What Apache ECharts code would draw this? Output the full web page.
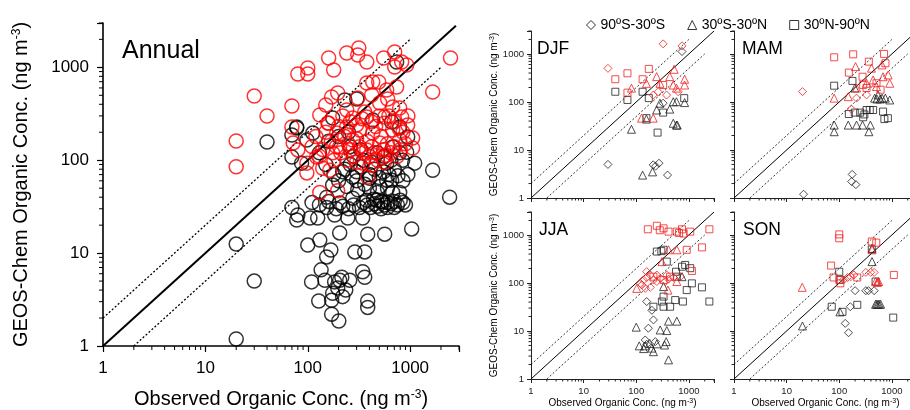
<!DOCTYPE html>
<html><head><meta charset="utf-8">
<script src="https://cdn.jsdelivr.net/npm/echarts@6/dist/echarts.min.js"></script>
<style>html,body{margin:0;padding:0;background:#fff}#c{width:910px;height:410px}</style>
</head><body><div id="c"></div>
<script>
// ---------- data ----------
const tickLabels = ['1', '10', '100', '1000'];
const minorTickValues = [2,3,4,5,6,7,8,9,20,30,40,50,60,70,80,90,200,300,400,500,600,700,800,900,2000,3000];
const regions = ['90ºS-30ºS', '30ºS-30ºN', '30ºN-90ºN'];
const panelNames = ['Annual', 'DJF', 'MAM', 'JJA', 'SON'];
const mainLine11 = [[1,1],[2800,2800]];
const subLine11 = [[1,1],[3000,3000]];
const line21 = [[1,2],[1000,2000]];
const line12 = [[2,1],[2000,1000]];

const annualBlack = [
[78,228],[175,285],[230,445],[301,456],[431,271],[660,258],[738,1140],[40,157],[70,187],[78,222],[70,108],[87,93],[98,165],[112,196],
[219,75],[175,54],[240,52],[275,66],[308,48],[403,64],[504,52],[590,61],[660,61],[675,45],[790,45],[845,100],[925,122],[1107,93],
[1660,78],[2430,40],[275,39],[377,37],[471,37],[540,35.5],[675,139],[590,93],[790,120],[205,34.6],[153,40],[20,12.5],[30,5.0],[20,1.19],
[70,31],[80,25.7],[78,22.7],[105,23.9],[125,23.9],[153,31],[183,25.7],[246,23.9],[344,23.9],[205,16.5],[385,16],[564,16],[1035,18.2],
[100,12.2],[131,13.8],[168,10.8],[153,9.1],[288,10.3],[360,10.3],[135,6.6],[109,4.9],[147,5.1],[183,4.9],[215,5.5],[257,5.1],[344,6.3],
[360,5.5],[196,4.2],[219,3.4],[175,3.7],[128,3.05],[171,3.1],[385,3.05],[385,2.6],[171,2.2],[201,1.86],[205,5.1],[235,4.0],
[110,35],[130,33],[160,36],[190,30],[220,32],[250,30],[280,33],[320,31],[350,35],[380,33],[410,31],[450,34],[480,32],[520,36],[560,33],
[600,35],[650,34],[700,36],[750,33],[800,37],[850,35],[900,33],[440,38],[520,30],[600,31],[700,31],
[180,70],[200,60],[230,80],[260,90],[300,75],[330,85],[360,55],[400,70],[450,80],[500,65],[550,75],[620,70],[700,80],[760,68],[850,60],
[950,70],[280,110],[350,100],[420,95],[480,120],[560,110],[650,100],[160,160],[200,180],[260,140],[130,120],[150,90],[330,130],[250,200],
[300,60],[400,50],[480,45],[600,50],[790,228],[946,178]
];
const annualRed = [
[30,490],[40,299],[70,383],[80,847],[100,983],[100,847],[160,1259],[179,935],[240,1425],[315,1614],[308,1356],[377,1140],[551,1259],
[706,1462],[706,1007],[826,1140],[925,1059],[2480,1259],[1660,542],[377,678],[431,695],[493,695],[738,614],[590,570],[421,503],[308,467],
[196,529],[171,479],[150,393],[131,307],[157,251],[240,347],[275,285],[377,292],[504,413],[603,456],[675,374],[790,365],[826,292],[564,292],
[70,228],[20,161],[20,85],[72,153],[80,129],[98,93],[98,73],[131,45],[196,47],[140,82],[175,120],[205,139],[240,100],[275,165],[321,211],
[377,129],[385,66],[431,196],[504,153],[540,106],[580,113],[675,211],[790,165],[946,239],[1058,173],[1058,135],[344,93],[164,78],[122,108],
[240,228],[192,196],
[150,200],[170,160],[190,140],[210,120],[230,180],[250,150],[260,130],[280,110],[300,170],[320,140],[350,120],[380,160],[400,110],[420,140],
[450,120],[480,100],[520,180],[550,130],[600,150],[650,120],[700,140],[750,110],[800,130],[850,200],[900,150],[120,180],[140,130],[160,250],
[200,230],[220,300],[260,260],[300,240],[340,280],[360,330],[420,260],[460,230],[500,300],[560,250],[620,300],[700,260],[780,220],[950,300],
[110,140],[130,110],[180,100],[300,95],[420,88],[560,95]
];

const djfRedDiamond = [[29,500],[324,1620],[740,1470],[210,139],[377,139],[260,163],[625,163]];
const djfRedTriangle = [[81,194],[156,244],[244,337],[282,244],[433,337],[525,478],[505,225],[580,194],[830,297],[830,225],[126,46],[210,46]];
const djfRedSquare = [[40,297],[68,395],[173,488],[132,297],[68,156],[324,225]];
const djfBlackDiamond = [[29,5],[210,4.9],[233,4.6],[270,5.3],[393,3.0],[740,1120],[324,94]];
const djfBlackTriangle = [[81,27],[132,3.0],[204,3.5],[244,68],[282,94],[433,71],[505,101],[580,101],[830,97],[505,36],[580,33],[600,33],[156,44]];
const djfBlackSquare = [[40,163],[68,110],[132,163],[173,120],[156,46],[324,60],[254,23],[815,120]];

const mamRedDiamond = [[20,164],[170,71],[213,120],[330,140]];
const mamRedTriangle = [[204,545],[410,505],[650,590],[850,365],[910,245],[80,120],[148,129],[213,195],[330,245],[440,287],[510,209],[680,335]];
const mamRedSquare = [[80,850],[184,980],[152,408],[365,690],[710,1000],[755,640],[277,335],[285,226],[330,195],[510,245],[610,180]];
const mamBlackDiamond = [[21,1.2],[176,3.1],[172,2.2],[207,1.9]];
const mamBlackTriangle = [[80,33],[80,24],[148,33],[213,33],[277,33],[365,24],[390,33],[198,195],[470,120],[650,120],[910,110],[545,140],[520,115],[600,115],[750,120]];
const mamBlackSquare = [[80,218],[178,274],[152,56],[285,48],[330,68],[440,68],[680,63],[720,44],[840,46],[197,60],[380,68],[250,60],[300,55]];

const jjaRedDiamond = [[120,98],[137,115],[158,130],[185,146],[212,115],[246,107],[285,125],[355,107],[410,120],[510,130],[185,81],[148,77],[128,91],[158,172],[246,146],[380,146],[690,135]];
const jjaRedTriangle = [[307,278],[410,490],[590,490],[102,77],[400,71],[590,107]];
const jjaRedSquare = [[166,1310],[246,1550],[330,1370],[410,1170],[590,1170],[790,1070],[1060,1170],[740,1310],[2450,1310],[910,490],[1770,550],[1140,178],[212,135],[330,115],[440,135],[280,1250],[650,1100]];
const jjaBlackDiamond = [[158,41],[198,27],[212,17],[170,11.4],[148,6.5],[158,5.3],[230,6.0]];
const jjaBlackTriangle = [[330,84],[740,135],[100,12],[114,4.9],[148,4.9],[180,5.5],[198,4.4],[212,3.7],[246,5.4],[345,5.1],[285,10.5],[380,10.2],[410,16],[590,16],[370,6],[410,2.5],[138,4.3]];
const jjaBlackSquare = [[246,450],[330,490],[380,278],[570,171],[740,218],[850,237],[1060,203],[1140,98],[910,71],[1770,81],[2450,41],[770,41],[550,44],[307,41],[212,32],[330,32],[440,32],[330,52],[590,135],[300,460]];

const sonRedDiamond = [[144,130],[190,147],[166,135],[320,166],[395,166],[460,166],[120,116]];
const sonRedTriangle = [[19.8,81],[420,490],[560,107],[490,107],[525,103],[540,105]];
const sonRedSquare = [[100,1025],[100,850],[70,230],[78,130],[100,116],[105,98],[220,130],[415,730],[505,690],[1090,147]];
const sonBlackDiamond = [[200,69],[320,69],[360,69],[460,69],[162,32],[130,14.4],[150,9.2]];
const sonBlackTriangle = [[420,278],[420,525],[103,25],[20,12.7],[490,36],[545,36],[610,36],[515,36],[575,36]];
const sonBlackSquare = [[415,500],[100,171],[105,116],[72,32],[115,25],[220,35],[1060,19],[490,107]];

// ---------- chart ----------
const FONT = 'Liberation Sans, Arial, sans-serif';
const RED = '#ff0000';
const BLK = '#000000';
const grids = [
  {left:103, top:23, width:356, height:323, outerBoundsMode:'none'},
  {left:531, top:31, width:183, height:167, outerBoundsMode:'none'},
  {left:734, top:31, width:183, height:167, outerBoundsMode:'none'},
  {left:531, top:212, width:183, height:167, outerBoundsMode:'none'},
  {left:734, top:212, width:183, height:167, outerBoundsMode:'none'}
];
function fmt(v){ const r = Math.round(v); const s = String(r); return tickLabels.indexOf(s) >= 0 && Math.abs(v - r) < 1e-6 * Math.max(1, r) ? s : ''; }
const xAxes = [], yAxes = [];
grids.forEach((g, i) => {
  const main = i === 0;
  const showX = main || i === 3 || i === 4;
  const showY = main || i === 1 || i === 3;
  const col = main ? '#000' : '#222';
  const axisCommon = {
    type:'log', logBase:10, min:1, max:3000, gridIndex:i,
    splitLine:{show:false},
    axisLine:{show:true, lineStyle:{color:col, width: main ? 1.6 : 1}},
    axisTick:{show:true, inside:false, length: main ? 6 : 4, lineStyle:{color:col, width: main ? 1.2 : 1}},
    minorTick:{show:false}
  };
  const supRich = {sup:{fontSize: main ? 12 : 7, verticalAlign:'top', fontFamily:FONT, color:'#000'}};
  xAxes.push(Object.assign({}, axisCommon, {
    axisLabel:{show:showX, formatter:fmt, fontSize: main ? 17 : 9.5, fontFamily:FONT, color:col, margin: main ? 14 : 7},
    name: showX ? 'Observed Organic Conc. (ng m{sup|-3})' : '',
    nameLocation:'middle', nameGap: main ? 43 : 19,
    nameTextStyle:{fontSize: main ? 20 : 10, fontFamily:FONT, color:'#000', rich:supRich}
  }));
  yAxes.push(Object.assign({}, axisCommon, {
    axisLabel:{show:showY, formatter:fmt, fontSize: main ? 17 : 9.5, fontFamily:FONT, color:col, margin: main ? 14 : 7},
    name: showY ? 'GEOS-Chem Organic Conc. (ng m{sup|-3})' : '',
    nameLocation:'middle', nameRotate:90, nameGap: main ? 72 : 32,
    nameTextStyle:{fontSize: main ? 20 : 10, fontFamily:FONT, color:'#000', rich:supRich}
  }));
});

const series = [];
function lineS(i, data, width, dashed){
  series.push({type:'line', xAxisIndex:i, yAxisIndex:i, data:data, showSymbol:false, silent:true, z:1,
    lineStyle:{color:'#000', width:width, type: dashed ? [2,2] : 'solid'}, animation:false});
}
function scat(i, name, data, symbol, color, size, bw){
  series.push({type:'scatter', name:name, xAxisIndex:i, yAxisIndex:i, data:data, symbol:symbol, symbolSize:size,
    itemStyle:{color:'rgba(0,0,0,0)', borderColor:color, borderWidth:bw}, silent:true, z:3,
    emphasis:{disabled:true}, animation:false});
}
function ticks(i, len, col){
  series.push({type:'scatter', xAxisIndex:i, yAxisIndex:i, data:minorTickValues.map(v => [v, 1]), symbol:'rect',
    symbolSize:[1, len], symbolOffset:[0, len/2], clip:false, silent:true, itemStyle:{color:col, opacity:1}, z:10, animation:false});
  series.push({type:'scatter', xAxisIndex:i, yAxisIndex:i, data:minorTickValues.map(v => [1, v]), symbol:'rect',
    symbolSize:[len, 1], symbolOffset:[-len/2, 0], clip:false, silent:true, itemStyle:{color:col, opacity:1}, z:10, animation:false});
}
// main panel
lineS(0, mainLine11, 2, false);
lineS(0, line21, 1.3, true);
lineS(0, line12, 1.3, true);
ticks(0, 4, '#000');
scat(0, 'annual-black', annualBlack, 'circle', BLK, 14, 1.5);
scat(0, 'annual-red', annualRed, 'circle', RED, 14, 1.5);
// seasonal panels
const seasonal = [
  [djfBlackDiamond, djfBlackTriangle, djfBlackSquare, djfRedDiamond, djfRedTriangle, djfRedSquare],
  [mamBlackDiamond, mamBlackTriangle, mamBlackSquare, mamRedDiamond, mamRedTriangle, mamRedSquare],
  [jjaBlackDiamond, jjaBlackTriangle, jjaBlackSquare, jjaRedDiamond, jjaRedTriangle, jjaRedSquare],
  [sonBlackDiamond, sonBlackTriangle, sonBlackSquare, sonRedDiamond, sonRedTriangle, sonRedSquare]
];
const shapes = ['diamond', 'triangle', 'rect'];
const sizes = [8, 8, 7];
seasonal.forEach((arrs, k) => {
  const i = k + 1;
  lineS(i, subLine11, 1, false);
  lineS(i, line21, 0.8, true);
  lineS(i, line12, 0.8, true);
  ticks(i, 2.5, '#222');
  for (let s = 0; s < 3; s++) scat(i, regions[s], arrs[s], shapes[s], '#222', sizes[s], 1);
  for (let s = 0; s < 3; s++) scat(i, regions[s], arrs[s+3], shapes[s], '#f02020', sizes[s], 1);
});

const labelPos = [[122,54,25],[537,51,17.5],[742,51,17.5],[539,232,17.5],[743,232,17.5]];
const graphics = panelNames.map((t, i) => ({type:'text', left:labelPos[i][0], top:labelPos[i][1] - labelPos[i][2]*0.6,
  style:{text:t, fontSize:labelPos[i][2], fontFamily:FONT, fill:'#000'}, silent:true}));

const chart = echarts.init(document.getElementById('c'), null, {renderer:'canvas'});
chart.setOption({
  animation:false,
  backgroundColor:'#fff',
  grid: grids,
  xAxis: xAxes,
  yAxis: yAxes,
  legend:{top:13, left:581, itemWidth:9, itemHeight:9, itemGap:22, selectedMode:false,
    textStyle:{fontSize:14, fontFamily:FONT, color:'#000'},
    data: regions.map((r, i) => ({name:r, icon:shapes[i], itemStyle:{color:'rgba(0,0,0,0)', borderColor:'#000', borderWidth:1}}))},
  graphic: graphics,
  series: series
});
</script></body></html>
